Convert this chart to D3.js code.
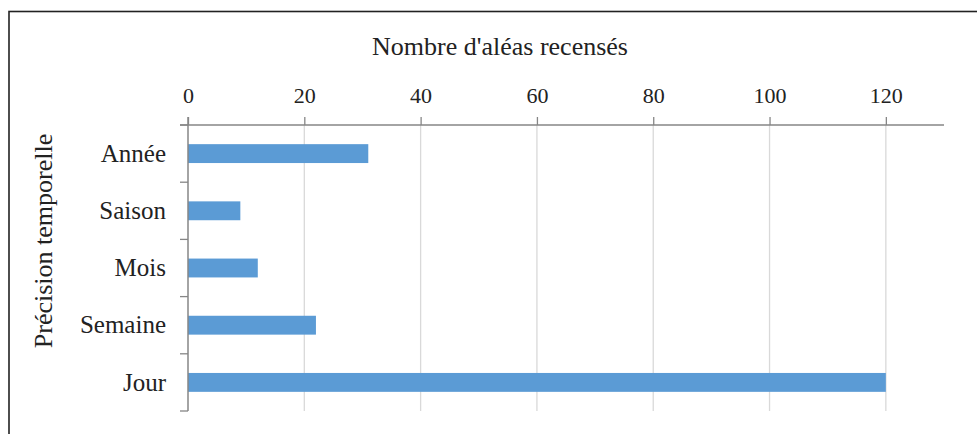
<!DOCTYPE html>
<html><head><meta charset="utf-8">
<script src="https://cdn.jsdelivr.net/npm/d3@7"></script>
<style>html,body{margin:0;padding:0;background:#fff;overflow:hidden}</style>
</head><body>
<svg id="c" width="977" height="434"></svg>
<script>
const categories = ["Année", "Saison", "Mois", "Semaine", "Jour"];
const values = [31, 9, 12, 22, 120];
const tickValues = [0, 20, 40, 60, 80, 100, 120];
const xTitle = "Nombre d'aléas recensés";
const yTitle = "Précision temporelle";

const svg = d3.select("#c");
const font = "Liberation Serif, DejaVu Serif, serif";

// frame
svg.append("rect").attr("x", 9).attr("y", 11.5).attr("width", 1000).attr("height", 500)
  .attr("fill", "none").attr("stroke", "#222").attr("stroke-width", 1.6);

const x = d3.scaleLinear().domain([0, 130]).range([188, 944]);
const y = d3.scaleBand().domain(categories).range([125, 411]).paddingInner(0.67).paddingOuter(0.335);
const yb = d3.scaleBand().domain(categories).range([125, 411]);

// grid
svg.append("g").selectAll("line").data(tickValues.filter(d => d > 0)).join("line")
  .attr("x1", d => x(d)).attr("x2", d => x(d)).attr("y1", 125).attr("y2", 411)
  .attr("stroke", "#d9d9d9").attr("stroke-width", 1.3);

// bars
svg.append("g").selectAll("rect").data(values).join("rect")
  .attr("x", x(0)).attr("y", (d, i) => y(categories[i]))
  .attr("width", d => x(d) - x(0)).attr("height", y.bandwidth())
  .attr("fill", "#5b9bd5");

// top axis
const ax = svg.append("g").attr("transform", "translate(0,125)")
  .call(d3.axisTop(x).tickValues(tickValues).tickSize(8).tickPadding(14).tickSizeOuter(0));
ax.select(".domain").attr("stroke", "#868686").attr("stroke-width", 1.5).attr("d", "M180,0H944");
ax.selectAll(".tick line").attr("stroke", "#868686").attr("stroke-width", 1.3);
ax.selectAll(".tick text").attr("font-family", font).attr("font-size", 22).attr("fill", "#222");

// left axis
const bounds = categories.map(c => yb(c)).concat([411]);
svg.append("line").attr("x1", x(0)).attr("x2", x(0)).attr("y1", 117).attr("y2", 411)
  .attr("stroke", "#868686").attr("stroke-width", 1.5);
svg.append("g").selectAll("line").data(bounds).join("line")
  .attr("x1", 180).attr("x2", x(0)).attr("y1", d => d).attr("y2", d => d)
  .attr("stroke", "#868686").attr("stroke-width", 1.3);
svg.append("g").selectAll("text").data(categories).join("text")
  .attr("x", 166).attr("y", d => yb(d) + yb.bandwidth() / 2).attr("dy", "0.33em")
  .attr("text-anchor", "end").attr("font-family", font).attr("font-size", 25).attr("fill", "#222")
  .text(d => d);

// titles
svg.append("text").attr("x", 500).attr("y", 55).attr("text-anchor", "middle")
  .attr("font-family", font).attr("font-size", 26).attr("fill", "#222").text(xTitle);
svg.append("text").attr("transform", "translate(52,241) rotate(-90)").attr("text-anchor", "middle")
  .attr("font-family", font).attr("font-size", 26).attr("fill", "#222").text(yTitle);
</script>
</body></html>
